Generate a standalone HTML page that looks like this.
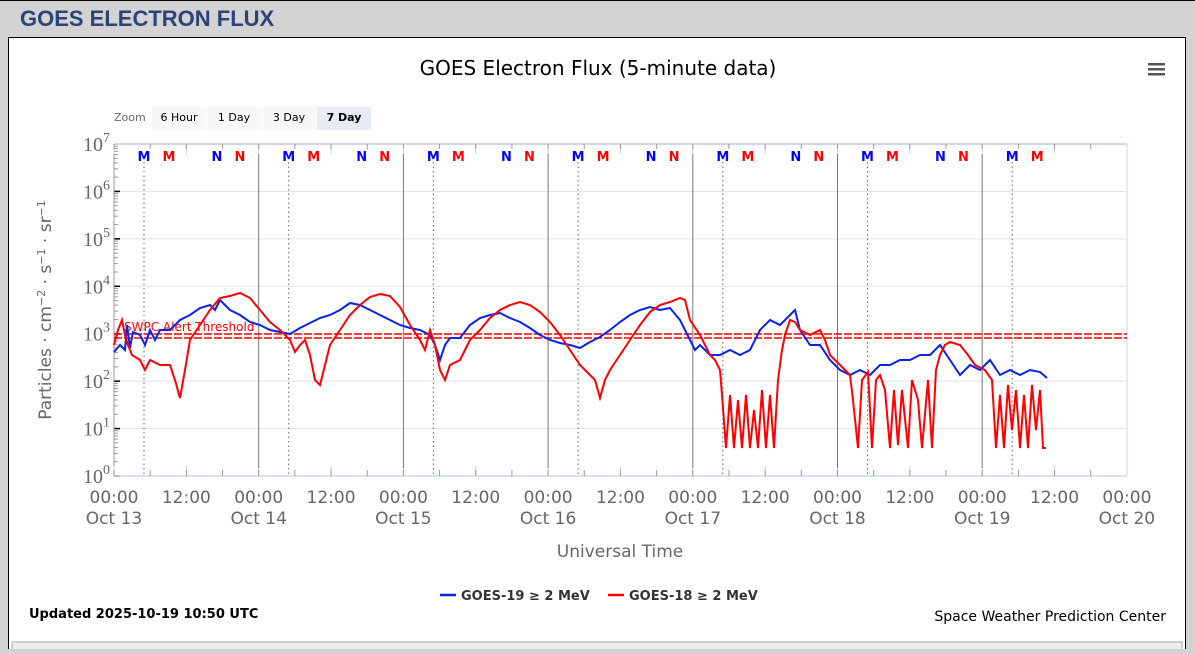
<!DOCTYPE html>
<html><head><meta charset="utf-8"><style>
body{margin:0;background:#d3d3d3;width:1195px;height:649px;overflow:hidden;font-family:"Liberation Sans",sans-serif}
</style></head><body>
<svg id="s" width="1195" height="649" xmlns="http://www.w3.org/2000/svg" font-family="DejaVu Sans, sans-serif">
<rect x="0" y="0" width="1195" height="649" fill="#d3d3d3"/>
<line x1="0" y1="0.5" x2="1195" y2="0.5" stroke="#000"/>
<text x="20" y="26" font-size="22" font-weight="bold" fill="#2a4478" font-family="Liberation Sans, sans-serif">GOES ELECTRON FLUX</text>
<rect x="8.5" y="37.5" width="1177" height="620" fill="#fff" stroke="#000"/>
<rect x="12" y="642" width="1170" height="10" fill="#eee" stroke="#aaa"/>
<text x="598" y="75" font-size="20" text-anchor="middle" fill="#000">GOES Electron Flux (5-minute data)</text>
<g fill="#555"><rect x="1148" y="63" width="17" height="2.5"/><rect x="1148" y="68" width="17" height="2.5"/><rect x="1148" y="73" width="17" height="2.5"/></g>
<text x="114" y="121" font-size="11" fill="#666">Zoom</text>
<rect x="152" y="107" width="54" height="23" fill="#f7f7f7"/><text x="179" y="121" font-size="11" text-anchor="middle">6 Hour</text>
<rect x="207" y="107" width="54" height="23" fill="#f7f7f7"/><text x="234" y="121" font-size="11" text-anchor="middle">1 Day</text>
<rect x="262" y="107" width="54" height="23" fill="#f7f7f7"/><text x="289" y="121" font-size="11" text-anchor="middle">3 Day</text>
<rect x="317" y="107" width="54" height="23" fill="#e6ebf5"/><text x="344" y="121" font-size="11" text-anchor="middle" font-weight="bold">7 Day</text>
<g id="g"></g>
<text x="620" y="557" font-size="17" fill="#666" text-anchor="middle">Universal Time</text>
<text transform="translate(51,310) rotate(-90)" font-size="17" fill="#666" text-anchor="middle">Particles · cm<tspan dy="-6" font-size="11">−2</tspan><tspan dy="6"> · s</tspan><tspan dy="-6" font-size="11">−1</tspan><tspan dy="6"> · sr</tspan><tspan dy="-6" font-size="11">−1</tspan></text>
<line x1="440" y1="595" x2="456" y2="595" stroke="#0a22ee" stroke-width="2.5"/>
<text x="461" y="600" font-size="13" font-weight="bold" fill="#333">GOES-19 ≥ 2 MeV</text>
<line x1="608" y1="595" x2="624" y2="595" stroke="#f00" stroke-width="2.5"/>
<text x="629" y="600" font-size="13" font-weight="bold" fill="#333">GOES-18 ≥ 2 MeV</text>
<text x="29" y="618" font-size="13" font-weight="bold">Updated 2025-10-19 10:50 UTC</text>
<text x="1166" y="621" font-size="14" text-anchor="end">Space Weather Prediction Center</text>
</svg>
<script>
var g=document.getElementById('g'),h='';
var X0=114,D=144.7,Y0=476,DEC=47.43;
for(var k=0;k<=7;k++){var y=Y0-k*DEC;h+='<line x1="114" x2="1127" y1="'+y+'" y2="'+y+'" stroke="#e0e0e0"/>';
h+='<text x="110" y="'+(y+7)+'" font-family="Liberation Serif" font-size="20" fill="#666" text-anchor="end">10<tspan dy="-9" font-size="14">'+k+'</tspan></text>';
h+='<line x1="114" x2="120" y1="'+y+'" y2="'+y+'" stroke="#000" stroke-width="1.5"/>';
if(k<7)for(var m=2;m<10;m++){var yy=y-Math.log10(m)*DEC;h+='<line x1="114" x2="118" y1="'+yy+'" y2="'+yy+'" stroke="#999"/>';}}
h+='<line x1="114" x2="114" y1="144" y2="476" stroke="#999"/>';
h+='<line x1="1127" x2="1127" y1="144" y2="476" stroke="#cdd6ea"/>';
h+='<line x1="114" x2="1127" y1="144" y2="144" stroke="#cdd6ea" stroke-width="2"/>';
h+='<line x1="114" x2="1127" y1="476" y2="476" stroke="#cdd6ea" stroke-width="1.5"/>';
for(var i=0;i<=14;i++){var x=X0+i*D/2;h+='<line x1="'+x+'" x2="'+x+'" y1="144" y2="154" stroke="#cdd6ea"/><line x1="'+x+'" x2="'+x+'" y1="466" y2="476" stroke="#cdd6ea"/>';
h+='<text x="'+x+'" y="503" font-size="17" fill="#666" text-anchor="middle">'+(i%2?'12:00':'00:00')+'</text>';
if(i%2==0)h+='<text x="'+x+'" y="524" font-size="17" fill="#666" text-anchor="middle">Oct '+(13+i/2)+'</text>';}
for(var i=0;i<28;i++){var x=X0+i*D/4;h+='<line x1="'+x+'" x2="'+x+'" y1="470" y2="476" stroke="#999"/><line x1="'+x+'" x2="'+x+'" y1="144" y2="149" stroke="#999"/>';}
for(var d=0;d<7;d++){var b=X0+d*D;
if(d>0)h+='<line x1="'+b+'" x2="'+b+'" y1="154" y2="468" stroke="#777"/>';
h+='<line x1="'+(b+30)+'" x2="'+(b+30)+'" y1="162" y2="476" stroke="#666" stroke-dasharray="1.5,3"/>';
var L=[[30,'M','#00f'],[55,'M','#f00'],[103,'N','#00f'],[126,'N','#f00']];
L.forEach(function(l){if(d==6&&l[1]=='N')return;h+='<text x="'+(b+l[0])+'" y="161" font-size="13" font-weight="bold" fill="'+l[2]+'" text-anchor="middle">'+l[1]+'</text>';});}
h+='<line x1="114" x2="1127" y1="334" y2="334" stroke="#f00" stroke-width="1.5" stroke-dasharray="8,2"/>';
h+='<line x1="114" x2="1127" y1="338" y2="338" stroke="#f00" stroke-width="1.5" stroke-dasharray="8,2"/>';
h+='<text x="124" y="331" font-size="12" fill="#f00">SWPC Alert Threshold</text>';
function jit(s,a){var seed=7;return s.split(' ').map(function(p,i){var q=p.split(',');var out=[];var x=+q[0],y=+q[1];return x+','+y;}).join(' ');}
var blue="114,352 120,345 125,350 127,325 130,348 133,332 140,335 145,345 150,330 155,340 160,330 170,330 180,320 190,315 200,308 210,305 215,310 220,300 230,310 240,315 250,322 260,325 270,330 280,332 290,334 300,328 310,323 320,318 330,315 340,310 350,303 360,305 370,310 380,315 390,320 400,325 410,328 420,330 430,335 435,345 440,360 445,345 450,338 460,338 470,325 480,318 490,315 500,313 510,318 520,322 530,328 540,335 550,340 560,343 570,345 580,348 590,342 600,337 610,330 620,322 630,315 640,310 650,307 660,310 670,308 680,320 690,340 695,350 700,345 710,355 720,355 730,350 740,355 750,350 760,330 770,320 780,325 790,315 795,310 800,330 810,345 820,345 830,360 840,370 850,375 860,370 870,375 880,365 890,365 900,360 910,360 920,355 930,355 940,345 950,360 960,375 970,365 980,370 990,360 1000,375 1010,370 1020,375 1030,370 1040,372 1047,378";
var red="114,345 118,330 122,320 125,335 128,345 132,355 140,360 145,370 150,360 160,365 170,365 175,380 180,398 185,370 190,340 200,325 210,310 220,298 230,296 240,293 250,298 260,310 270,322 280,330 290,340 295,352 300,345 305,340 310,355 315,380 320,385 325,365 330,345 340,330 350,315 360,305 370,297 380,294 390,296 400,307 410,325 420,340 425,350 430,330 435,345 440,370 445,380 450,365 460,360 470,340 480,330 490,318 500,310 510,305 520,302 530,305 540,312 550,322 560,335 570,350 580,365 590,375 595,380 600,398 605,380 610,370 620,355 630,340 640,325 650,312 660,305 670,302 680,298 685,300 690,320 700,335 710,355 715,360 720,370 722,395 726,448 730,395 734,448 738,400 742,448 746,395 750,448 754,410 758,448 762,390 766,448 770,395 774,448 778,380 782,350 785,335 790,320 795,322 800,330 810,335 820,330 825,340 830,355 835,360 840,365 845,370 850,375 853,400 858,448 862,380 868,372 872,448 876,380 880,375 885,390 890,448 894,390 898,445 902,390 908,448 912,380 918,400 922,448 928,380 932,448 936,370 940,355 945,345 950,342 960,345 968,355 975,365 985,370 992,380 996,448 1000,395 1004,448 1008,385 1012,430 1016,390 1020,448 1024,395 1028,448 1032,385 1036,430 1040,390 1043,448 1046,448";
h+='<polyline points="'+blue+'" fill="none" stroke="#0a22ee" stroke-width="2"/>';
h+='<polyline points="'+red+'" fill="none" stroke="#f00" stroke-width="2"/>';
g.innerHTML=h;
</script>
</body></html>
